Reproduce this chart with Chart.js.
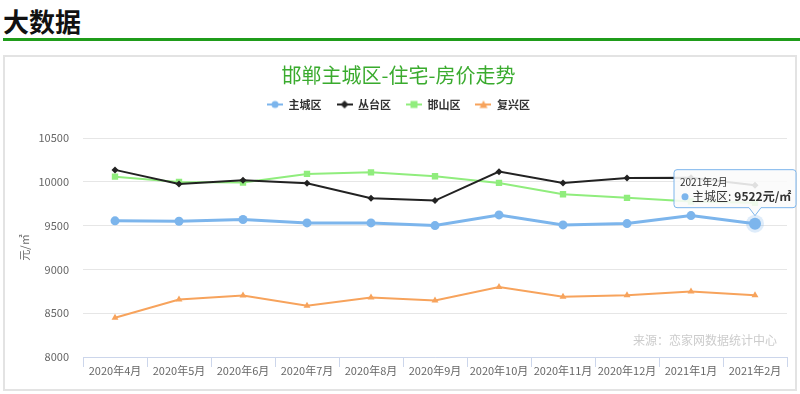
<!DOCTYPE html>
<html>
<head>
<meta charset="utf-8">
<script src="https://cdn.jsdelivr.net/npm/chart.js@4.4.1/dist/chart.umd.min.js"></script>
<style>
  html, body { margin: 0; padding: 0; background: #fff; }
  body { width: 800px; height: 394px; position: relative; overflow: hidden; font-family: "Noto Sans CJK SC", sans-serif; }
  #head { position: absolute; left: 3px; top: 5px; font-size: 26px; font-weight: bold; color: #111; line-height: 32px; }
  #bar { position: absolute; left: 3px; top: 38px; width: 797px; height: 3px; background: #1f9c1a; }
  #box { position: absolute; left: 3px; top: 55px; width: 790px; height: 332px; border: 2px solid #e3e3e3; }
  #wrap { position: absolute; left: 0; top: 0; width: 800px; height: 394px; }
</style>
</head>
<body>
<div id="head">大数据</div>
<div id="bar"></div>
<div id="box"></div>
<div id="wrap"><canvas id="chart" width="800" height="394"></canvas></div>
<script>
document.addEventListener('DOMContentLoaded', () => {
    const FONT = '"Noto Sans CJK SC", sans-serif';

    // Data
    const months = ['2020年4月', '2020年5月', '2020年6月', '2020年7月', '2020年8月', '2020年9月',
        '2020年10月', '2020年11月', '2020年12月', '2021年1月', '2021年2月'];
    const zhuCheng = [9554, 9550, 9570, 9531, 9531, 9500, 9622, 9508, 9523, 9614, 9522];
    const congTai = [10136, 9976, 10017, 9983, 9812, 9786, 10116, 9987, 10044, 10045, 9960];
    const hanShan = [10059, 9999, 9991, 10090, 10108, 10063, 9987, 9858, 9817, 9775, 9760];
    const fuXing = [8449, 8657, 8703, 8586, 8680, 8646, 8798, 8688, 8706, 8749, 8706];
    const yTicks = [8000, 8500, 9000, 9500, 10000, 10500];

    const series = [
        { name: '主城区', data: zhuCheng, color: '#7cb5ec', style: 'circle', radius: 4.5, width: 3 },
        { name: '丛台区', data: congTai, color: '#222222', style: 'rectRot', radius: 3.5, width: 2 },
        { name: '邯山区', data: hanShan, color: '#90ed7d', style: 'rect', radius: 4.5, width: 2 },
        { name: '复兴区', data: fuXing, color: '#f7a35c', style: 'triangle', radius: 4, width: 2 }
    ];

    // small legend symbol: line with marker
    function legendIcon(s) {
        const c = document.createElement('canvas');
        c.width = 16; c.height = 10;
        const g = c.getContext('2d');
        g.strokeStyle = s.color;
        g.lineWidth = 2;
        g.beginPath(); g.moveTo(0, 5); g.lineTo(16, 5); g.stroke();
        g.fillStyle = s.color;
        g.beginPath();
        if (s.style === 'circle') g.arc(8, 5, 3.5, 0, Math.PI * 2);
        else if (s.style === 'rect') g.rect(4.5, 1.5, 7, 7);
        else if (s.style === 'rectRot') { g.moveTo(8, 1); g.lineTo(12, 5); g.lineTo(8, 9); g.lineTo(4, 5); g.closePath(); }
        else { g.moveTo(8, 1); g.lineTo(12, 8.5); g.lineTo(4, 8.5); g.closePath(); }
        g.fill();
        return c;
    }

    const legendSpace = {
        id: 'legendSpace',
        beforeInit(chart) {
            const fit = chart.legend.fit;
            chart.legend.fit = function () {
                fit.bind(chart.legend)();
                this.height += 18;
            };
        }
    };

    // source note + fixed tooltip on the last 主城区 point
    const extras = {
        id: 'extras',
        afterDatasetsDraw(chart) {
            const ctx = chart.ctx;
            const area = chart.chartArea;
            ctx.save();
            ctx.font = '12px ' + FONT;
            ctx.fillStyle = '#cccccc';
            ctx.textAlign = 'right';
            ctx.textBaseline = 'middle';
            ctx.fillText('来源：恋家网数据统计中心', area.right - 10, area.bottom - 17);

            const idx = months.length - 1;
            const pt = chart.getDatasetMeta(0).data[idx];
            // halo + hovered point
            ctx.fillStyle = 'rgba(124,181,236,0.25)';
            ctx.beginPath(); ctx.arc(pt.x, pt.y, 9, 0, Math.PI * 2); ctx.fill();
            ctx.fillStyle = '#7cb5ec';
            ctx.beginPath(); ctx.arc(pt.x, pt.y, 6, 0, Math.PI * 2); ctx.fill();

            // tooltip box
            const bx = pt.x - 81, by = pt.y - 54, bw = 122, bh = 38, r = 3;
            const tipY = pt.y - 8;
            ctx.beginPath();
            ctx.moveTo(bx + r, by);
            ctx.lineTo(bx + bw - r, by);
            ctx.quadraticCurveTo(bx + bw, by, bx + bw, by + r);
            ctx.lineTo(bx + bw, by + bh - r);
            ctx.quadraticCurveTo(bx + bw, by + bh, bx + bw - r, by + bh);
            ctx.lineTo(pt.x + 6, by + bh);
            ctx.lineTo(pt.x, tipY);
            ctx.lineTo(pt.x - 6, by + bh);
            ctx.lineTo(bx + r, by + bh);
            ctx.quadraticCurveTo(bx, by + bh, bx, by + bh - r);
            ctx.lineTo(bx, by + r);
            ctx.quadraticCurveTo(bx, by, bx + r, by);
            ctx.closePath();
            ctx.fillStyle = 'rgba(250,250,250,0.88)';
            ctx.fill();
            ctx.strokeStyle = '#7cb5ec';
            ctx.lineWidth = 1;
            ctx.stroke();

            ctx.textAlign = 'left';
            ctx.fillStyle = '#333333';
            ctx.font = '10px ' + FONT;
            ctx.fillText(months[idx], bx + 6, by + 13);
            ctx.fillStyle = '#7cb5ec';
            ctx.beginPath(); ctx.arc(bx + 11, by + 27, 3.5, 0, Math.PI * 2); ctx.fill();
            ctx.fillStyle = '#333333';
            ctx.font = '12px ' + FONT;
            const lead = series[0].name + ':';
            ctx.fillText(lead, bx + 18, by + 27);
            const w = ctx.measureText(lead).width;
            ctx.font = 'bold 12px ' + FONT;
            ctx.fillText(zhuCheng[idx] + '元/㎡', bx + 21 + w, by + 27);
            ctx.restore();
        }
    };

    new Chart(document.getElementById('chart'), {
        type: 'line',
        data: {
            labels: months,
            datasets: series.map(s => ({
                label: s.name,
                data: s.data,
                borderColor: s.color,
                backgroundColor: s.color,
                borderWidth: s.width,
                pointStyle: s.style,
                pointRadius: s.radius,
                pointBorderWidth: 0,
                pointBackgroundColor: s.color,
                tension: 0,
                fill: false
            }))
        },
        options: {
            responsive: false,
            animation: false,
            events: [],
            layout: { padding: { top: 63, left: 10, right: 13, bottom: 0 } },
            plugins: {
                title: {
                    display: true,
                    text: '邯郸主城区-住宅-房价走势',
                    color: '#3aab2e',
                    font: { family: FONT, size: 20, weight: 'normal' },
                    padding: { top: 0, bottom: -3 }
                },
                legend: {
                    labels: {
                        color: '#333333',
                        font: { family: FONT, size: 11, weight: 'bold' },
                        usePointStyle: true,
                        pointStyleWidth: 16,
                        padding: 15,
                        generateLabels: () => series.map((s, i) => ({
                            text: s.name,
                            pointStyle: legendIcon(s),
                            fontColor: '#333333',
                            strokeStyle: 'transparent',
                            lineWidth: 0,
                            datasetIndex: i
                        }))
                    }
                },
                tooltip: { enabled: false }
            },
            scales: {
                x: {
                    offset: true,
                    grid: { offset: true, drawOnChartArea: false, drawTicks: true, tickLength: 10, color: '#ccd6eb' },
                    border: { color: '#ccd6eb' },
                    ticks: { color: '#666666', font: { family: FONT, size: 11 }, maxRotation: 0, autoSkip: false, padding: -3 },
                    afterFit: (scale) => { scale.height = 37; }
                },
                y: {
                    min: 8000,
                    max: 10500,
                    afterBuildTicks: (scale) => { scale.ticks = yTicks.map(v => ({ value: v })); },
                    grid: { color: '#e6e6e6', drawTicks: false },
                    border: { display: false },
                    ticks: { color: '#666666', font: { family: FONT, size: 11 }, padding: 14, callback: (v) => String(v) },
                    title: { display: true, text: '元/㎡', color: '#666666', font: { family: FONT, size: 11 }, padding: { top: 8, bottom: 0 } },
                    afterFit: (scale) => { scale.width = 73; }
                }
            }
        },
        plugins: [legendSpace, extras]
    });
});
</script>
</body>
</html>
